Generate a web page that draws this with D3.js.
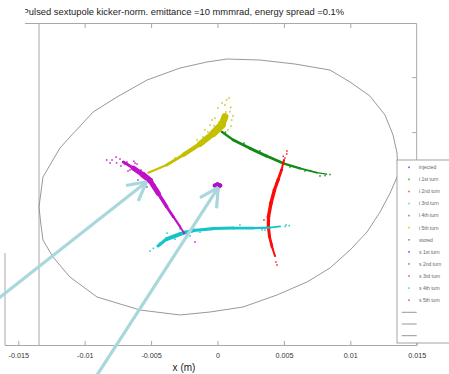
<!DOCTYPE html>
<html><head><meta charset="utf-8">
<script src="https://cdn.jsdelivr.net/npm/d3@7"></script>
<style>body{margin:0;background:#fff}svg{display:block;font-family:"Liberation Sans",Arial,sans-serif}</style>
</head><body><svg id="c" width="449" height="374"></svg>
<script>
// ---- data (x in mm, x' in mrad) ----
const titleText = "Pulsed sextupole kicker-norm. emittance =10 mmmrad, energy spread =0.1%";
const xTickValues = [-0.015, -0.01, -0.005, 0, 0.005, 0.01, 0.015];   // metres
const xTopTickValues = [-0.01, -0.005, 0, 0.005, 0.01];
const yRightTickValues = [-2, -1, 0, 1, 2];
const legendLabels = ["injected","i 1st turn","i 2nd turn","i 3rd turn","i 4th turn","i 5th turn","stored","s 1st turn","s 2nd turn","s 3rd turn","s 4th turn","s 5th turn"];
const legendColors = ["#5a5aff","#4fae4f","#ff5a5a","#5ad8d8","#d85ad8","#cccc4f","#8a8a8a","#5a5aff","#4fae4f","#ff5a5a","#5ad8d8","#d85ad8"];

// acceptance ellipse
const acceptance = [[-13.44,-0.362],[-13.14,0.184],[-11.86,0.711],[-11.11,0.911],[-9.37,1.365],[-7.57,1.638],[-5.31,1.947],[-2.82,2.165],[-0.79,2.275],[0.72,2.329],[3.20,2.311],[5.84,2.238],[8.47,2.129],[9.98,1.911],[11.48,1.656],[12.61,1.311],[13.22,0.947],[13.52,0.620],[13.59,0.220],[13.0,-0.107],[12.24,-0.453],[11.26,-0.816],[9.98,-1.144],[8.47,-1.471],[6.74,-1.725],[4.48,-1.962],[1.92,-2.180],[-0.56,-2.271],[-2.82,-2.325],[-5.84,-2.235],[-9.07,-1.998],[-11.11,-1.635],[-12.39,-1.271],[-13.14,-0.962],[-13.29,-0.693]];

// beam filaments: [x, x', band width]
const turn1Core = [[0.32,1.007,2],[1.19,0.856,2.5],[2.45,0.705,3],[3.70,0.565,3],[4.95,0.433,2.5],[6.21,0.342,2],[7.47,0.262,1.5],[8.22,0.238,1]];
const turn1Dots = [[7.72,0.202],[8.47,0.229],[6.59,0.293],[5.46,0.365],[8.1,0.21],[7.0,0.30],[0.6,1.0],[2.0,0.80],[3.2,0.66]];
const turn2Core = [[5.01,0.493,1.5],[4.82,0.311,2.5],[4.56,0.129,3],[4.29,-0.053,3.5],[4.03,-0.289,3.5],[3.84,-0.538,3.5],[3.83,-0.720,3],[3.92,-0.902,3],[4.10,-1.084,2.5],[4.33,-1.253,1.5]];
const turn2Dots = [[5.21,0.602],[5.23,0.656],[4.40,-1.362],[4.48,-1.416],[5.08,0.529],[4.95,0.56],[4.86,0.311],[4.41,0.075],[3.50,-0.598],[4.10,-1.035],[4.18,-1.126]];
const turn3Core = [[-4.48,-1.071,2],[-3.83,-0.944,4],[-2.82,-0.853,4],[-1.82,-0.789,3.5],[-0.32,-0.753,3],[1.19,-0.744,3],[2.70,-0.744,2.5],[3.95,-0.735,2],[4.71,-0.716,1.5]];
const turn3Dots = [[-4.83,-1.113],[-5.08,-1.162],[-4.33,-1.016],[-2.82,-0.762],[-3.43,-0.925],[5.08,-0.716],[3.58,-0.780],[-2.07,-0.889],[-4.0,-0.96],[5.4,-0.70],[-4.18,-1.016],[-3.80,-0.838],[-3.20,-0.947],[-2.45,-0.802],[-1.32,-0.820],[1.69,-0.689],[3.35,-0.780],[5.16,-0.689]];
const turn4Core = [[-7.09,0.456,2],[-6.34,0.347,4],[-5.59,0.220,6],[-5.08,0.120,6],[-4.46,-0.113,4],[-3.83,-0.356,3],[-3.33,-0.538,2.5],[-2.82,-0.720,2],[-2.52,-0.835,1.5]];
const turn4Dots = [[-8.34,0.493],[-7.94,0.493],[-7.34,0.511],[-6.97,0.420],[-6.82,0.456],[-6.59,0.311],[-6.06,0.420],[-2.37,-0.907],[-1.69,-0.998],[-7.6,0.44],[-6.3,0.47],[-7.64,0.547],[-8.09,0.438],[-7.27,0.384],[-6.74,0.293],[-6.21,0.438],[-5.76,0.311],[-5.99,0.129],[-4.71,0.038],[-5.31,0.002]];
const turn5Core = [[-5.21,0.262,1.5],[-3.83,0.402,2.5],[-2.58,0.584,3.5],[-1.32,0.784,5],[-0.32,0.978,7],[0.32,1.129,8],[0.56,1.280,6]];
const turn5Dots = [[0.69,1.584],[0.56,1.493],[0.94,1.371],[-0.19,1.251],[-0.56,1.129],[1.07,1.220],[-0.94,1.038],[0.79,1.038],[-1.92,0.711],[-3.20,0.529],[-4.33,0.347],[1.0,1.45],[0.04,1.438],[0.34,1.529],[0.87,1.62],[0.64,1.365],[0.11,1.184],[-0.26,1.111],[1.17,1.293],[1.02,1.111],[-0.72,1.002],[-1.09,0.911],[-1.54,0.856],[-0.41,1.22]];
const storedCore = [[-0.2,0.03,4],[0.0,0.05,4.5],[0.2,0.03,4],[0.05,0.0,4]];

const clouds = [
  {core: turn1Core, dots: turn1Dots, color: "#138a13"},
  {core: turn2Core, dots: turn2Dots, color: "#ff0a0a"},
  {core: turn3Core, dots: turn3Dots, color: "#14c4c8"},
  {core: turn4Core, dots: turn4Dots, color: "#c010c8"},
  {core: turn5Core, dots: turn5Dots, color: "#c4c000"},
  {core: storedCore, dots: [], color: "#b010c8"}
];

// arrows: tail -> tip, in data units
const arrows = [
  {tail: [-17.13,-2.147], tip: [-5.33,0.098]},
  {tail: [-9.6,-3.616], tip: [0.06,-0.004]}
];

// ---- scales ----
const svg = d3.select("#c");
const x = d3.scaleLinear().domain([-16, 15]).range([5, 416.7]);
const y = d3.scaleLinear().domain([-2.88, 2.975]).range([345.5, 23.5]);
const L = 5, R = 416.7, T = 23.5, B = 345.5;
const axisCol = "#a8a8a8";

// title
svg.append("defs").append("clipPath").attr("id","tc").append("rect").attr("x",25.3).attr("y",0).attr("width",430).attr("height",22);
svg.append("text").attr("x",22.6).attr("y",15).attr("clip-path","url(#tc)")
  .attr("font-size",9.4).attr("fill","#222").text(titleText);

// frame lines
const g = svg.append("g").attr("stroke",axisCol).attr("stroke-width",1).attr("fill","none");
g.append("line").attr("x1",25).attr("x2",R).attr("y1",T).attr("y2",T);
g.append("line").attr("x1",L).attr("x2",R).attr("y1",B).attr("y2",B);
g.append("line").attr("x1",R).attr("x2",R).attr("y1",T).attr("y2",B);
g.append("line").attr("x1",39).attr("x2",39).attr("y1",T).attr("y2",B);
g.append("line").attr("x1",L).attr("x2",L).attr("y1",253).attr("y2",B);

// x axis (bottom) via d3 axis
const xm = v => v * 1000;
const bottomAxis = d3.axisBottom(x).tickValues(xTickValues.map(xm)).tickSize(-4.5).tickPadding(7)
  .tickFormat((d,i) => String(xTickValues[i]));
const bg = svg.append("g").attr("transform",`translate(0,${B})`).call(bottomAxis);
bg.select(".domain").remove();
bg.selectAll(".tick line").attr("stroke",axisCol);
bg.selectAll(".tick text").attr("font-size",7.2).attr("fill","#333").attr("font-family","Liberation Sans, Arial, sans-serif");

const topAxis = d3.axisTop(x).tickValues(xTopTickValues.map(xm)).tickSize(-4.5).tickFormat("");
const tg = svg.append("g").attr("transform",`translate(0,${T})`).call(topAxis);
tg.select(".domain").remove();
tg.selectAll(".tick line").attr("stroke",axisCol);

const rightAxis = d3.axisRight(y).tickValues(yRightTickValues).tickSize(-4.5).tickFormat("");
const rg = svg.append("g").attr("transform",`translate(${R},0)`).call(rightAxis);
rg.select(".domain").remove();
rg.selectAll(".tick line").attr("stroke",axisCol);

svg.append("text").attr("x",184).attr("y",371).attr("text-anchor","middle")
  .attr("font-size",10).attr("fill","#222").text("x (m)");

// acceptance ellipse
svg.append("path").datum(acceptance)
  .attr("d", d3.line().x(d => x(d[0])).y(d => y(d[1])).curve(d3.curveLinearClosed))
  .attr("fill","none").attr("stroke","#8c8c8c").attr("stroke-width",0.9);

// beam clouds
clouds.forEach(c => {
  const cg = svg.append("g");
  for (let i = 0; i < c.core.length - 1; i++) {
    const a = c.core[i], b = c.core[i+1];
    cg.append("line").attr("x1",x(a[0])).attr("y1",y(a[1])).attr("x2",x(b[0])).attr("y2",y(b[1]))
      .attr("stroke",c.color).attr("stroke-width",(a[2]+b[2])/2).attr("stroke-linecap","round");
  }
  cg.selectAll("ellipse").data(c.core).join("ellipse")
    .attr("cx",d => x(d[0])).attr("cy",d => y(d[1])).attr("rx",d => d[2]/2).attr("ry",d => d[2]/2.6)
    .attr("fill",c.color);
  cg.selectAll("rect").data(c.dots).join("rect")
    .attr("x",d => x(d[0]) - 0.8).attr("y",d => y(d[1]) - 0.8).attr("width",1.6).attr("height",1.6)
    .attr("fill",c.color).attr("opacity",0.85);
});

// arrows
const ag = svg.append("g").attr("stroke","#a8d7dc").attr("stroke-width",3.2).attr("fill","none");
arrows.forEach(a => {
  const x0 = x(a.tail[0]), y0 = y(a.tail[1]), x1 = x(a.tip[0]), y1 = y(a.tip[1]);
  ag.append("line").attr("x1",x0).attr("y1",y0).attr("x2",x1).attr("y2",y1);
  const ang = Math.atan2(y0 - y1, x0 - x1), len = 21, spr = 28 * Math.PI / 180;
  [ang - spr, ang + spr].forEach(t => {
    ag.append("line").attr("x1",x1).attr("y1",y1)
      .attr("x2",x1 + len * Math.cos(t)).attr("y2",y1 + len * Math.sin(t));
  });
});

// legend
const lg = svg.append("g");
lg.append("rect").attr("x",397).attr("y",160).attr("width",70).attr("height",183)
  .attr("fill","#fff").attr("stroke","#9a9a9a").attr("stroke-width",0.9);
const ly = d3.scaleLinear().domain([0, legendLabels.length - 1]).range([167.3, 300.2]);
legendLabels.forEach((lab, i) => {
  lg.append("rect").attr("x",408.2).attr("y",ly(i) - 0.8).attr("width",1.6).attr("height",1.6).attr("fill",legendColors[i]);
  lg.append("text").attr("x",419).attr("y",ly(i) + 1.8).attr("font-size",5).attr("fill","#666").text(lab);
});
[312.3, 324, 335.7].forEach(v => {
  lg.append("line").attr("x1",401.7).attr("x2",416.7).attr("y1",v).attr("y2",v).attr("stroke","#8a8a8a").attr("stroke-width",0.9);
});
</script></body></html>
